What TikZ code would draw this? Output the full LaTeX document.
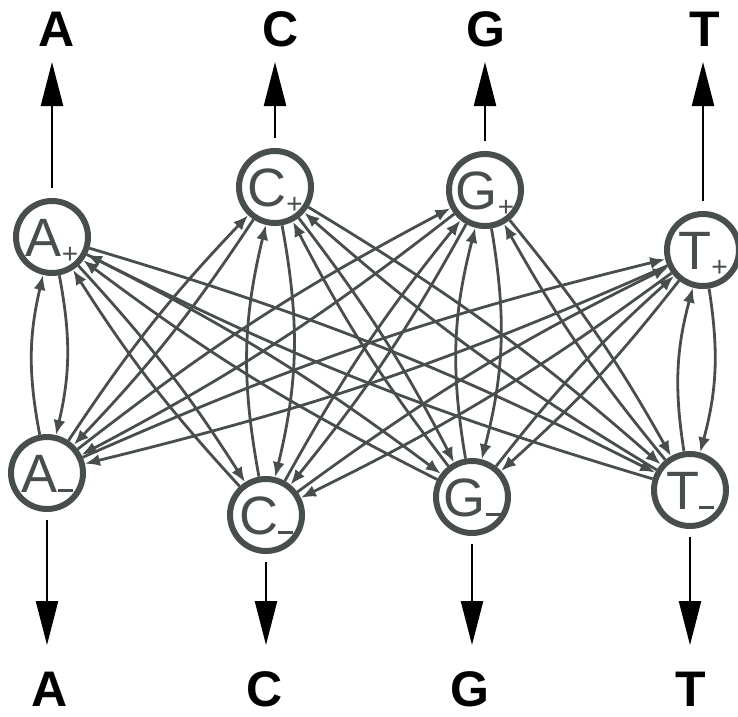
\documentclass[tikz,border=0pt]{standalone}
\usepackage{fontspec}
\setmainfont{Liberation Sans}
\usetikzlibrary{arrows.meta}
\definecolor{edgegray}{HTML}{474E4D}
\newcommand\stlab[2]{\raisebox{0pt}[38pt][0pt]{\fontsize{54}{54}\selectfont #1\raisebox{-7pt}{\fontsize{28}{28}\selectfont #2}}}
\newcommand\stlabm[1]{\raisebox{0pt}[38pt][0pt]{\fontsize{54}{54}\selectfont #1\rule{15pt}{2.6pt}}}
\begin{document}
\begin{tikzpicture}[x=1pt,y=-1pt,
  state/.style={circle,draw=edgegray,line width=6pt,minimum size=72pt,inner sep=0pt,text=edgegray},
  edge/.style={draw=edgegray,line width=2.8pt,-{Latex[length=15pt,width=12pt]}},
  emit/.style={draw=black,line width=2.4pt,-{Triangle[length=44pt,width=22pt]}},
  sym/.style={font=\fontsize{50}{50}\selectfont\bfseries,inner sep=0pt,text height=36pt,text depth=0pt}]
\useasboundingbox (0,0) rectangle (738,716);
% states
\node[state] (Ap) at (52,237) {\stlab{A}{+}};
\node[state] (Cp) at (275,187) {\stlab{C}{+}};
\node[state] (Gp) at (485,190) {\stlab{G}{+}};
\node[state] (Tp) at (703,250) {\stlab{T}{+}};
\node[state] (Am) at (47,473) {\stlabm{A}};
\node[state] (Cm) at (266,515) {\stlabm{C}};
\node[state] (Gm) at (472,497) {\stlabm{G}};
\node[state] (Tm) at (690,490) {\stlabm{T}};
% transitions between + and - states
\foreach \x in {A,C,G,T}{
  \foreach \y in {A,C,G,T}{
    \ifx\x\y
      \ifx\x A\def\bb{18}\else\ifx\x T\def\bb{18}\else\def\bb{12}\fi\fi
    \else\def\bb{5}\fi
    \draw[edge] (\x p) to[bend left=\bb] (\y m);
    \draw[edge] (\y m) to[bend left=\bb] (\x p);
  }
}
% emitted symbols, top
\node[sym] (tA) at (57,28) {A};
\node[sym] (tC) at (281,28) {C};
\node[sym] (tG) at (486,28) {G};
\node[sym] (tT) at (705,28) {T};
\coordinate (ptA) at (52,62);
\coordinate (ptC) at (275,62);
\coordinate (ptG) at (485,62);
\coordinate (ptT) at (703,62);
\draw[emit,shorten <=10pt] (Ap) -- (ptA);
\draw[emit,shorten <=10pt] (Cp) -- (ptC);
\draw[emit,shorten <=10pt] (Gp) -- (ptG);
\draw[emit,shorten <=10pt] (Tp) -- (ptT);
% emitted symbols, bottom
\node[sym] (bA) at (50,688) {A};
\node[sym] (bC) at (265,688) {C};
\node[sym] (bG) at (470,688) {G};
\node[sym] (bT) at (691,688) {T};
\coordinate (pbA) at (47,645);
\coordinate (pbC) at (266,645);
\coordinate (pbG) at (472,645);
\coordinate (pbT) at (690,645);
\draw[emit,shorten <=8pt] (Am) -- (pbA);
\draw[emit,shorten <=8pt] (Cm) -- (pbC);
\draw[emit,shorten <=8pt] (Gm) -- (pbG);
\draw[emit,shorten <=8pt] (Tm) -- (pbT);
\end{tikzpicture}
\end{document}
